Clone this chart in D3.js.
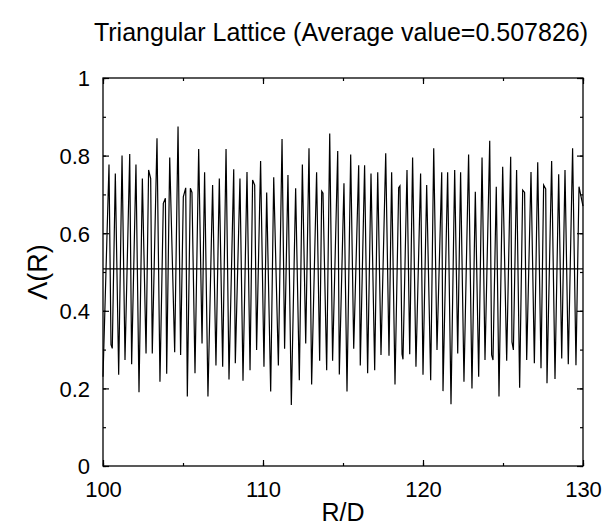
<!DOCTYPE html>
<html>
<head>
<meta charset="utf-8">
<script src="https://cdn.jsdelivr.net/npm/d3@7/dist/d3.min.js"></script>
<style>
  body { margin: 0; background: #fff; }
  text { font-family: "Liberation Sans", Arial, sans-serif; fill: #000; }
</style>
</head>
<body>
<div id="chart"></div>
<script>
// data (peaks and troughs of the curve)
const rValues = [
  100.0, 100.375, 100.5, 100.58, 100.77, 100.98, 101.19, 101.375, 101.67, 101.79,
  102.06, 102.25, 102.46, 102.69, 102.85, 102.98, 103.08, 103.375, 103.56, 103.77,
  103.9, 103.98, 104.17, 104.48, 104.69, 104.85, 105.02, 105.17, 105.27, 105.46,
  105.56, 105.75, 105.98, 106.19, 106.35, 106.56, 106.85, 107.06, 107.27, 107.48,
  107.69, 107.875, 108.17, 108.27, 108.56, 108.75, 109.0, 109.19, 109.35, 109.48,
  109.6, 109.85, 110.06, 110.23, 110.48, 110.67, 110.96, 111.19, 111.35, 111.56,
  111.77, 112.04, 112.27, 112.46, 112.67, 112.875, 113.04, 113.35, 113.54, 113.67,
  113.75, 113.98, 114.17, 114.35, 114.67, 114.77, 115.06, 115.25, 115.48, 115.67,
  115.98, 116.08, 116.35, 116.54, 116.75, 116.98, 117.17, 117.375, 117.67, 117.875,
  118.04, 118.25, 118.48, 118.56, 118.69, 118.75, 119.0, 119.17, 119.35, 119.56,
  119.85, 120.0, 120.23, 120.48, 120.67, 120.875, 121.17, 121.25, 121.54, 121.75,
  121.98, 122.17, 122.35, 122.56, 122.85, 123.06, 123.27, 123.48, 123.69, 123.875,
  124.17, 124.29, 124.375, 124.58, 124.75, 124.98, 125.23, 125.48, 125.56, 125.65,
  125.85, 126.04, 126.23, 126.35, 126.48, 126.75, 126.96, 127.17, 127.375, 127.54,
  127.67, 127.75, 128.04, 128.25, 128.48, 128.67, 128.875, 129.08, 129.35, 129.56,
  129.75, 130.0
];
const lambdaValues = [
  0.23, 0.777, 0.313, 0.303, 0.754, 0.235, 0.80, 0.273, 0.804, 0.262,
  0.777, 0.19, 0.741, 0.29, 0.763, 0.741, 0.29, 0.845, 0.217, 0.677,
  0.69, 0.238, 0.795, 0.293, 0.875, 0.286, 0.694, 0.717, 0.179, 0.716,
  0.705, 0.239, 0.817, 0.316, 0.757, 0.179, 0.724, 0.259, 0.741, 0.256,
  0.817, 0.223, 0.765, 0.265, 0.741, 0.22, 0.758, 0.247, 0.737, 0.724,
  0.299, 0.786, 0.256, 0.705, 0.192, 0.744, 0.259, 0.843, 0.302, 0.75,
  0.157, 0.716, 0.221, 0.777, 0.316, 0.819, 0.21, 0.757, 0.271, 0.708,
  0.703, 0.247, 0.857, 0.271, 0.812, 0.236, 0.729, 0.192, 0.803, 0.302,
  0.775, 0.259, 0.775, 0.239, 0.754, 0.247, 0.757, 0.286, 0.806, 0.284,
  0.757, 0.21, 0.717, 0.722, 0.288, 0.275, 0.763, 0.288, 0.795, 0.256,
  0.754, 0.235, 0.724, 0.221, 0.819, 0.299, 0.757, 0.193, 0.757, 0.159,
  0.763, 0.29, 0.757, 0.217, 0.803, 0.2, 0.707, 0.23, 0.795, 0.273,
  0.838, 0.286, 0.273, 0.72, 0.179, 0.771, 0.271, 0.797, 0.32, 0.299,
  0.763, 0.202, 0.711, 0.705, 0.273, 0.758, 0.265, 0.783, 0.252, 0.724,
  0.714, 0.213, 0.786, 0.224, 0.752, 0.277, 0.763, 0.262, 0.819, 0.26,
  0.72, 0.67
];
const averageValue = 0.507826;
const xTicks = [100, 110, 120, 130];
const xMinorTicks = [100, 105, 110, 115, 120, 125, 130];
const yTicks = [0, 0.2, 0.4, 0.6, 0.8, 1];
const yMinorTicks = [0, 0.1, 0.2, 0.3, 0.4, 0.5, 0.6, 0.7, 0.8, 0.9, 1];

const w = 602, h = 526;
const margin = {left: 103, right: 19, top: 78, bottom: 60};
const iw = w - margin.left - margin.right;
const ih = h - margin.top - margin.bottom;

const svg = d3.select("#chart").append("svg")
  .attr("width", w)
  .attr("height", h);

const x = d3.scaleLinear().domain([100, 130]).range([0, iw]);
const y = d3.scaleLinear().domain([0, 1]).range([ih, 0]);

const g = svg.append("g").attr("transform", `translate(${margin.left},${margin.top})`);

// minor ticks, all four sides, pointing in
const minor = (axis, ticks, tr) => {
  g.append("g").attr("transform", tr)
    .call(axis.tickValues(ticks).tickSize(-3).tickFormat(""))
    .call(s => s.select(".domain").remove());
};
minor(d3.axisBottom(x), xMinorTicks, `translate(0,${ih})`);
minor(d3.axisTop(x), xMinorTicks, "translate(0,0)");
minor(d3.axisLeft(y), yMinorTicks, "translate(0,0)");
minor(d3.axisRight(y), yMinorTicks, `translate(${iw},0)`);

// major ticks + labels
const xAxis = g.append("g").attr("transform", `translate(0,${ih})`)
  .call(d3.axisBottom(x).tickValues(xTicks).tickSize(-6).tickPadding(8).tickFormat(d3.format("d")));
const yAxis = g.append("g")
  .call(d3.axisLeft(y).tickValues(yTicks).tickSize(-6).tickPadding(13).tickFormat(d => d3.format("")(d)));
g.append("g").call(d3.axisTop(x).tickValues(xTicks).tickSize(-6).tickFormat(""));
g.append("g").attr("transform", `translate(${iw},0)`)
  .call(d3.axisRight(y).tickValues(yTicks).tickSize(-6).tickFormat(""));

g.selectAll(".domain").remove();
g.selectAll(".tick line").attr("stroke", "#000").attr("stroke-width", 1.2);
xAxis.selectAll("text").style("font-size", "22px").attr("dy", "1.05em");
yAxis.selectAll("text").style("font-size", "22px").attr("dy", "0.36em");

// frame
g.append("rect")
  .attr("width", iw).attr("height", ih)
  .attr("fill", "none").attr("stroke", "#000").attr("stroke-width", 1.3);

// curve
const pts = rValues.map((r, i) => [r, lambdaValues[i]]);
g.append("path")
  .datum(pts)
  .attr("fill", "none")
  .attr("stroke", "#000")
  .attr("stroke-width", 1.2)
  .attr("stroke-linejoin", "miter")
  .attr("d", d3.line().x(d => x(d[0])).y(d => y(d[1])));

// average line
g.append("line")
  .attr("x1", x(100)).attr("x2", x(130))
  .attr("y1", y(averageValue)).attr("y2", y(averageValue))
  .attr("stroke", "#000").attr("stroke-width", 1.2);

// title and axis labels
svg.append("text")
  .attr("x", margin.left + iw / 2 - 2).attr("y", 41)
  .attr("text-anchor", "middle")
  .style("font-size", "25px")
  .text("Triangular Lattice (Average value=0.507826)");

svg.append("text")
  .attr("x", margin.left + iw / 2).attr("y", 521)
  .attr("text-anchor", "middle")
  .style("font-size", "25px")
  .text("R/D");

svg.append("text")
  .attr("transform", `translate(47,${margin.top + ih / 2}) rotate(-90)`)
  .attr("text-anchor", "middle")
  .style("font-size", "27px")
  .text("Λ(R)");
</script>
</body>
</html>
